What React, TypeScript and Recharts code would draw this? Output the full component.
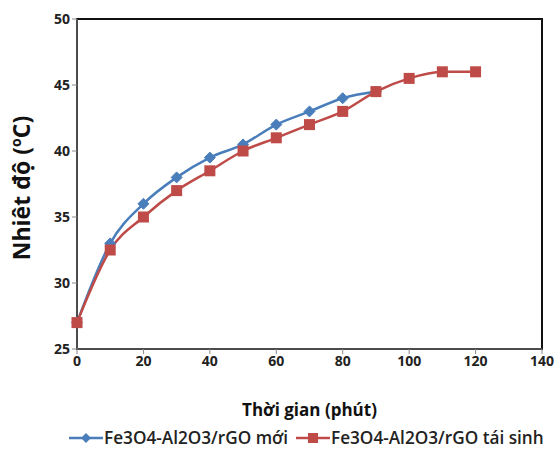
import {
  Legend,
  Line,
  LineChart,
  ReferenceArea,
  XAxis,
  YAxis,
} from 'recharts';

const times = [0, 10, 20, 30, 40, 50, 60, 70, 80, 90, 100, 110, 120];
const freshTemps = [27, 33, 36, 38, 39.5, 40.5, 42, 43, 44, 44.5];
const regenTemps = [27, 32.5, 35, 37, 38.5, 40, 41, 42, 43, 44.5, 45.5, 46, 46];
const xTicks = [0, 20, 40, 60, 80, 100, 120, 140];
const yTicks = [25, 30, 35, 40, 45, 50];

const FRESH_NAME = 'Fe3O4-Al2O3/rGO mới';
const REGEN_NAME = 'Fe3O4-Al2O3/rGO tái sinh';
const BLUE = '#4a7ebb';
const RED = '#be4b48';
const FONT = '"Open Sans", Lato, sans-serif';

const data = times.map((t, i) => ({
  t,
  fresh: freshTemps[i],
  regen: regenTemps[i],
}));

function Diamond(props: any) {
  const { cx, cy } = props;
  if (cx == null || cy == null || props.value == null) return null;
  const r = 5.5;
  return (
    <path
      d={`M${cx},${cy - r}L${cx + r},${cy}L${cx},${cy + r}L${cx - r},${cy}Z`}
      fill={BLUE}
      stroke={BLUE}
    />
  );
}

function Square(props: any) {
  const { cx, cy } = props;
  if (cx == null || cy == null || props.value == null) return null;
  const s = 11;
  return <rect x={cx - s / 2} y={cy - s / 2} width={s} height={s} fill={RED} />;
}

function LegendBox() {
  const item = (name: string, color: string, kind: 'd' | 's') => (
    <div style={{ display: 'flex', alignItems: 'center', marginRight: 8, flexShrink: 0 }}>
      <svg width={34} height={14}>
        <line x1={0} y1={7} x2={34} y2={7} stroke={color} strokeWidth={2.5} />
        {kind === 'd' ? (
          <path d="M17,2L22,7L17,12L12,7Z" fill={color} />
        ) : (
          <rect x={12} y={2} width={10} height={10} fill={color} />
        )}
      </svg>
      <span style={{ marginLeft: 1 }}>{name}</span>
    </div>
  );
  return (
    <div
      style={{
        display: 'flex',
        justifyContent: 'flex-start',
        whiteSpace: 'nowrap',
        fontFamily: FONT,
        fontWeight: 600,
        fontSize: 17.2,
        lineHeight: '24px',
        color: '#222',
        paddingLeft: 69,
      }}
    >
      {item(FRESH_NAME, BLUE, 'd')}
      {item(REGEN_NAME, RED, 's')}
    </div>
  );
}

export default function App() {
  return (
    <div style={{ position: 'absolute', left: 0, top: 0, background: '#fff' }}>
      <LineChart
        width={560}
        height={450}
        data={data}
        margin={{ top: 19, right: 18, left: 0, bottom: 0 }}
      >
        <XAxis
          dataKey="t"
          type="number"
          domain={[0, 140]}
          ticks={xTicks}
          tick={{ fontSize: 14, fontWeight: 700, fill: '#222', fontFamily: FONT }}
          tickLine={{ stroke: '#888' }}
          axisLine={{ stroke: '#888' }}
          tickSize={5}
          height={77}
          label={{
            value: 'Thời gian (phút)',
            position: 'insideBottom',
            offset: 10,
            style: { fontSize: 17, fontWeight: 700, fill: '#111', fontFamily: FONT },
          }}
        />
        <YAxis
          type="number"
          domain={[25, 50]}
          ticks={yTicks}
          tick={{ fontSize: 14, fontWeight: 700, fill: '#222', fontFamily: FONT }}
          tickLine={{ stroke: '#888' }}
          axisLine={{ stroke: '#888' }}
          tickSize={5}
          width={77}
          label={(p: any) => {
            const vb = p.viewBox;
            const x = 30;
            const y = vb.y + vb.height / 2 + 4;
            return (
              <text
                x={x}
                y={y}
                transform={`rotate(-90 ${x} ${y})`}
                textAnchor="middle"
                fontFamily={FONT}
                fontWeight={700}
                fontSize={23}
                fill="#111"
              >
                Nhiêt độ (
                <tspan fontSize={14} dy={-9}>
                  o
                </tspan>
                <tspan dy={9}>C)</tspan>
              </text>
            );
          }}
        />
        <ReferenceArea
          x1={0}
          x2={140}
          y1={25}
          y2={50}
          fill="none"
          stroke="#111"
          strokeWidth={2}
          ifOverflow="visible"
        />
        <Legend
          verticalAlign="bottom"
          wrapperStyle={{ left: 0, width: 560 }}
          content={() => <LegendBox />}
        />
        <Line
          type="monotone"
          dataKey="fresh"
          name={FRESH_NAME}
          stroke={BLUE}
          strokeWidth={2.5}
          dot={<Diamond />}
          activeDot={false}
          isAnimationActive={false}
        />
        <Line
          type="monotone"
          dataKey="regen"
          name={REGEN_NAME}
          stroke={RED}
          strokeWidth={2.5}
          dot={<Square />}
          activeDot={false}
          isAnimationActive={false}
        />
      </LineChart>
    </div>
  );
}
